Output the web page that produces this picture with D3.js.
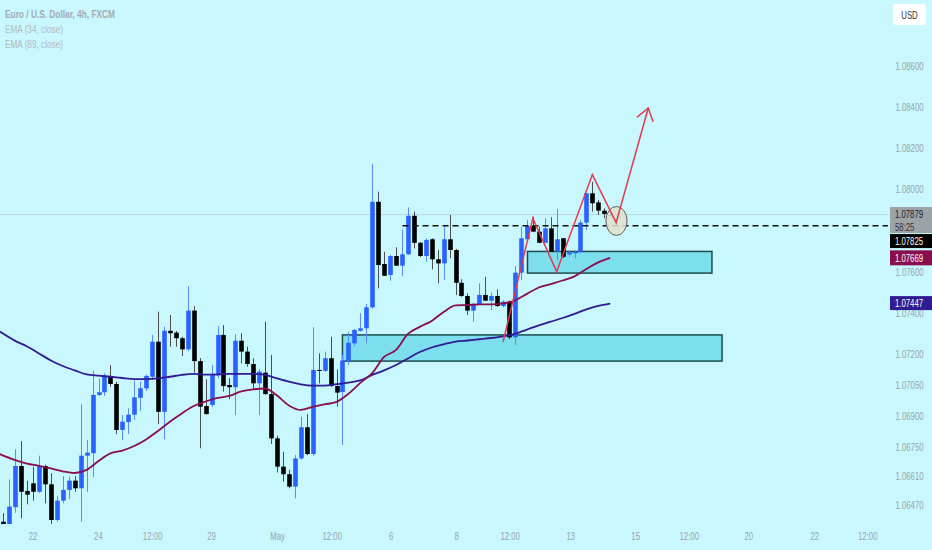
<!DOCTYPE html>
<html><head><meta charset="utf-8">
<script src="https://cdn.jsdelivr.net/npm/d3@7"></script>
<style>html,body{margin:0;padding:0;background:#c8f7fd;overflow:hidden}</style>
</head><body><svg id="c" width="932" height="550"></svg>
<script>
// ---- data (EUR/USD 4h, FXCM) ----
const opens = [1.06389,1.06373,1.06459,1.06659,1.06538,1.06575,1.06534,1.06659,1.06570,1.06397,1.06491,1.06543,1.06588,1.06551,1.06709,1.06721,1.07004,1.07017,1.07096,1.07057,1.06834,1.06872,1.06908,1.06990,1.07036,1.07092,1.07262,1.06922,1.07315,1.07306,1.07279,1.07225,1.07413,1.07168,1.06950,1.06955,1.07100,1.07295,1.07052,1.07041,1.07267,1.07214,1.07154,1.07060,1.07112,1.07008,1.06793,1.06656,1.06619,1.06559,1.06696,1.06847,1.06717,1.07125,1.07121,1.07182,1.07047,1.07018,1.07170,1.07254,1.07315,1.07327,1.07429,1.07941,1.07639,1.07586,1.07678,1.07631,1.07686,1.07873,1.07742,1.07678,1.07759,1.07662,1.07642,1.07759,1.07707,1.07548,1.07484,1.07413,1.07445,1.07489,1.07461,1.07484,1.07435,1.07456,1.07283,1.07597,1.07759,1.07823,1.07796,1.07742,1.07812,1.07699,1.07764,1.07686,1.07691,1.07699,1.07840,1.07982,1.07938,1.07898,1.07872];
const highs = [1.06430,1.06594,1.06740,1.06780,1.06588,1.06656,1.06709,1.06665,1.06624,1.06513,1.06610,1.06607,1.06610,1.06958,1.06785,1.07120,1.07083,1.07109,1.07148,1.07067,1.06906,1.06939,1.07073,1.07068,1.07102,1.07295,1.07408,1.07335,1.07392,1.07314,1.07286,1.07532,1.07435,1.07183,1.07080,1.07149,1.07338,1.07343,1.07086,1.07298,1.07303,1.07238,1.07182,1.07128,1.07359,1.07198,1.06805,1.06728,1.06640,1.06712,1.06898,1.06911,1.07332,1.07206,1.07214,1.07286,1.07128,1.07198,1.07311,1.07324,1.07400,1.07445,1.08124,1.07990,1.07699,1.07683,1.07720,1.07807,1.07914,1.07893,1.07746,1.07764,1.07764,1.07707,1.07820,1.07877,1.07712,1.07565,1.07497,1.07451,1.07545,1.07577,1.07500,1.07516,1.07464,1.07462,1.07629,1.07820,1.07853,1.07869,1.07820,1.07861,1.07866,1.07904,1.07765,1.07707,1.07707,1.07853,1.07984,1.08038,1.07950,1.07909,1.07893];
const lows = [1.06363,1.06358,1.06432,1.06405,1.06473,1.06491,1.06528,1.06478,1.06376,1.06389,1.06478,1.06497,1.06534,1.06389,1.06534,1.06604,1.06999,1.06999,1.07044,1.06814,1.06785,1.06814,1.06882,1.06926,1.07023,1.07076,1.06863,1.06789,1.07238,1.07238,1.07193,1.07217,1.07112,1.06745,1.06908,1.06945,1.07085,1.07020,1.06983,1.06906,1.07157,1.07141,1.07031,1.06906,1.07004,1.06766,1.06627,1.06583,1.06551,1.06502,1.06688,1.06712,1.06707,1.07060,1.07115,1.07042,1.06947,1.06761,1.07149,1.07241,1.07311,1.07254,1.07421,1.07521,1.07581,1.07558,1.07629,1.07581,1.07683,1.07715,1.07673,1.07650,1.07613,1.07545,1.07561,1.07667,1.07489,1.07480,1.07392,1.07359,1.07440,1.07460,1.07416,1.07432,1.07429,1.07274,1.07246,1.07561,1.07759,1.07794,1.07740,1.07740,1.07697,1.07658,1.07667,1.07674,1.07667,1.07691,1.07804,1.07893,1.07877,1.07861,1.07867];
const closes = [1.06376,1.06462,1.06659,1.06534,1.06520,1.06534,1.06659,1.06570,1.06397,1.06491,1.06543,1.06588,1.06551,1.06709,1.06724,1.07004,1.07017,1.07099,1.07057,1.06834,1.06874,1.06908,1.06992,1.07036,1.07096,1.07262,1.06922,1.07315,1.07303,1.07279,1.07225,1.07413,1.07168,1.06947,1.06911,1.07100,1.07295,1.07047,1.07041,1.07267,1.07214,1.07154,1.07060,1.07117,1.07008,1.06793,1.06656,1.06619,1.06559,1.06696,1.06847,1.06717,1.07125,1.07120,1.07182,1.07047,1.07015,1.07170,1.07257,1.07319,1.07327,1.07429,1.07941,1.07634,1.07582,1.07678,1.07631,1.07686,1.07873,1.07742,1.07678,1.07756,1.07662,1.07642,1.07759,1.07707,1.07548,1.07484,1.07413,1.07445,1.07489,1.07461,1.07484,1.07435,1.07456,1.07283,1.07597,1.07764,1.07823,1.07796,1.07742,1.07812,1.07699,1.07759,1.07674,1.07696,1.07699,1.07840,1.07982,1.07934,1.07898,1.07882,1.07879];

const emaIdx = [-0.6,2,4,6,8,10,12,14,16,18,20,22,24,26,28,30,32,34,36,38,40,42,44,46,48,50,52,54,56,58,60,62,64,66,68,70,72,74,76,78,80,82,84,86,88,90,92,94,96,98,100,102];
const ema34 = [1.06717,1.06688,1.06671,1.06660,1.06647,1.06633,1.06625,1.06640,1.06683,1.06720,1.06734,1.06756,1.06788,1.06829,1.06874,1.06914,1.06950,1.06972,1.06989,1.06999,1.07021,1.07031,1.07035,1.07001,1.06953,1.06931,1.06946,1.06958,1.06970,1.07009,1.07062,1.07110,1.07188,1.07222,1.07300,1.07334,1.07363,1.07406,1.07438,1.07440,1.07443,1.07443,1.07448,1.07462,1.07494,1.07525,1.07542,1.07559,1.07579,1.07615,1.07647,1.07669];
const ema89 = [1.07311,1.07266,1.07239,1.07205,1.07171,1.07144,1.07123,1.07103,1.07097,1.07092,1.07086,1.07081,1.07081,1.07084,1.07092,1.07101,1.07106,1.07102,1.07103,1.07106,1.07106,1.07106,1.07101,1.07084,1.07068,1.07055,1.07049,1.07049,1.07056,1.07064,1.07074,1.07101,1.07123,1.07149,1.07181,1.07212,1.07234,1.07249,1.07263,1.07268,1.07274,1.07280,1.07288,1.07300,1.07321,1.07341,1.07359,1.07377,1.07397,1.07419,1.07436,1.07447];

const priceTicks = [1.08600,1.08400,1.08200,1.08000,1.07600,1.07400,1.07200,1.07050,1.06900,1.06750,1.06610,1.06470];
const timeTickIdx = [4.9,15.9,25,34.9,46,55.2,65.1,76.1,85.1,95.3,106.2,115.2,125.2,136.3,145.2];
const timeTickLabels = ["22","24","12:00","29","May","12:00","6","8","12:00","13","15","12:00","20","22","12:00"];

// drawings
const zoneStart = [57, 88.1];
const zoneEnd = [120.8, 119.1];
const zoneTop = [1.07295, 1.07700];
const zoneBottom = [1.07168, 1.07595];
const levelStart = 67.1, levelPrice = 1.07825;
const zigIdx = [84, 89, 93, 99, 103, 108.4];
const zigPrice = [1.07262, 1.07861, 1.07602, 1.08073, 1.07840, 1.08396];
const circleIdx = 103.05, circlePrice = 1.07848;
const lastPrice = 1.07879, countdown = "58:25";

// ---- drawing ----
const W = 932, H = 550, plotR = 888, plotB = 524;
const svg = d3.select("#c");
svg.append("rect").attr("width", W).attr("height", H).attr("fill", "#c8f7fd");

const x = d3.scaleLinear().domain([0, 102]).range([3.3, 610.2]);
const y = d3.scaleLinear().domain([1.063776, 1.0892]).range([plotB, 0]);

svg.append("defs").append("clipPath").attr("id", "clip")
  .append("rect").attr("x", 0).attr("y", 0).attr("width", plotR).attr("height", plotB);
const plot = svg.append("g").attr("clip-path", "url(#clip)");

// last price line
plot.append("line").attr("x1", 0).attr("x2", plotR)
  .attr("y1", y(lastPrice)).attr("y2", y(lastPrice))
  .attr("stroke", "#b0c8cf").attr("stroke-width", 1).attr("opacity", 0.6);

// zones
const zones = d3.range(zoneStart.length).map(k => ({s: zoneStart[k], e: zoneEnd[k], t: zoneTop[k], b: zoneBottom[k]}));
plot.selectAll("rect.zone").data(zones).join("rect").attr("class", "zone")
  .attr("x", d => x(d.s)).attr("width", d => x(d.e) - x(d.s))
  .attr("y", d => y(d.t)).attr("height", d => y(d.b) - y(d.t))
  .attr("fill", "#7ddfee").attr("stroke", "#1c4a4c").attr("stroke-width", 1.5);

// candles
const bars = opens.map((o, i) => ({i, o, h: highs[i], l: lows[i], c: closes[i]}));
const up = d => d.c >= d.o;
plot.selectAll("line.wick").data(bars).join("line").attr("class", "wick")
  .attr("x1", d => Math.round(x(d.i)) + 0.5).attr("x2", d => Math.round(x(d.i)) + 0.5)
  .attr("y1", d => y(d.h)).attr("y2", d => y(d.l))
  .attr("stroke", d => up(d) ? "#5b8cff" : "#4d4d4d").attr("stroke-width", 1);
plot.selectAll("rect.body").data(bars).join("rect").attr("class", "body")
  .attr("x", d => Math.round(x(d.i)) + 0.5 - 2.3).attr("width", 4.6)
  .attr("y", d => y(Math.max(d.o, d.c)))
  .attr("height", d => Math.max(1, Math.abs(y(d.o) - y(d.c))))
  .attr("fill", d => up(d) ? "#2962ff" : "#000000");

// EMAs
const emaLine = d3.line().x(d => x(d[0])).y(d => y(d[1])).curve(d3.curveMonotoneX);
plot.append("path").datum(emaIdx.map((v, k) => [v, ema89[k]]))
  .attr("d", emaLine).attr("fill", "none").attr("stroke", "#311b92").attr("stroke-width", 1.8);
plot.append("path").datum(emaIdx.map((v, k) => [v, ema34[k]]))
  .attr("d", emaLine).attr("fill", "none").attr("stroke", "#880e4f").attr("stroke-width", 1.8);

// horizontal level (dashed)
plot.append("line").attr("x1", x(levelStart)).attr("x2", plotR)
  .attr("y1", y(levelPrice)).attr("y2", y(levelPrice))
  .attr("stroke", "#111").attr("stroke-width", 1.5).attr("stroke-dasharray", "6,4");

// circle (ellipse)
plot.append("ellipse").attr("cx", x(circleIdx)).attr("cy", y(circlePrice))
  .attr("rx", 10.6).attr("ry", 14.5)
  .attr("fill", "#dfe0cb").attr("fill-opacity", 0.85).attr("stroke", "#5e5e5e").attr("stroke-width", 1);

// zigzag path with arrow
const zig = zigIdx.map((v, k) => [x(v), y(zigPrice[k])]);
plot.append("path").attr("d", d3.line()(zig)).attr("fill", "none")
  .attr("stroke", "#e53950").attr("stroke-width", 1.5).attr("stroke-linejoin", "miter");
const tip = zig[zig.length - 1], prev = zig[zig.length - 2];
const dx = prev[0] - tip[0], dy = prev[1] - tip[1], len = Math.hypot(dx, dy);
const bx = dx / len, by = dy / len, ang = 35 * Math.PI / 180, al = 14;
[ang, -ang].forEach(a => {
  const rx = bx * Math.cos(a) - by * Math.sin(a), ry = bx * Math.sin(a) + by * Math.cos(a);
  plot.append("line").attr("x1", tip[0]).attr("y1", tip[1])
    .attr("x2", tip[0] + rx * al).attr("y2", tip[1] + ry * al)
    .attr("stroke", "#e53950").attr("stroke-width", 1.5).attr("stroke-linecap", "round");
});

// ---- axes ----
const FONT = "'Liberation Sans', Arial, sans-serif";
const narrow = (sel, k) => sel.each(function () {
  const w = this.getComputedTextLength();
  d3.select(this).attr("textLength", w * k).attr("lengthAdjust", "spacingAndGlyphs");
});

const yAxis = d3.axisRight(y).tickValues(priceTicks).tickFormat(d3.format(".5f")).tickSize(0).tickPadding(0);
const gy = svg.append("g").attr("transform", "translate(895.5,0)").call(yAxis);
gy.select(".domain").remove();
gy.selectAll("text").attr("font-family", FONT).attr("font-size", "10.5px").attr("fill", "#9aa4ab");
narrow(gy.selectAll("text"), 0.74);

const xAxis = d3.axisBottom(x).tickValues(timeTickIdx).tickFormat((d, k) => timeTickLabels[k]).tickSize(0).tickPadding(0);
const gx = svg.append("g").attr("transform", "translate(0,533)").call(xAxis);
gx.select(".domain").remove();
gx.selectAll("text").attr("font-family", FONT).attr("font-size", "10.5px").attr("fill", "#9aa4ab").attr("dy", "0.71em");
narrow(gx.selectAll("text"), 0.74);

// ---- price tags ----
const tags = [
  {v: lastPrice, bg: "#9ea3a8", fg: "#1b1b1b", h: 26, sub: countdown},
  {v: levelPrice, bg: "#000000", fg: "#ffffff", h: 14},
  {v: ema34[ema34.length - 1], bg: "#880e4f", fg: "#ffffff", h: 15},
  {v: ema89[ema89.length - 1], bg: "#311b92", fg: "#ffffff", h: 14}
];
let lastBottom = -1e9;
tags.forEach(t => {
  let top = y(t.v) - 7.5;
  if (top < lastBottom + 1) top = lastBottom + 1;
  lastBottom = top + t.h;
  const g = svg.append("g");
  g.append("rect").attr("x", 890).attr("y", top).attr("width", 42).attr("height", t.h).attr("fill", t.bg);
  const tx = g.append("text").attr("x", 895).attr("y", top + 7.5).attr("dy", "0.35em")
    .attr("font-family", FONT).attr("font-size", "10.5px").attr("fill", t.fg).text(d3.format(".5f")(t.v));
  narrow(tx, 0.74);
  if (t.sub) {
    const s = g.append("text").attr("x", 895).attr("y", top + 20).attr("dy", "0.35em")
      .attr("font-family", FONT).attr("font-size", "10.5px").attr("fill", "#333").text(t.sub);
    narrow(s, 0.74);
  }
});

// USD box
svg.append("rect").attr("x", 893).attr("y", 4).attr("width", 33).attr("height", 21).attr("rx", 3)
  .attr("fill", "#ffffff");
narrow(svg.append("text").attr("x", 909.5).attr("y", 15).attr("dy", "0.35em").attr("text-anchor", "middle")
  .attr("font-family", FONT).attr("font-size", "10.5px").attr("fill", "#333").text("USD"), 0.74);

// legend
svg.append("text").attr("x", 5).attr("y", 18).attr("font-family", FONT).attr("font-size", "10.5px")
  .attr("font-weight", "bold").attr("fill", "#a4acb3").attr("textLength", 110).attr("lengthAdjust", "spacingAndGlyphs")
  .text("Euro / U.S. Dollar, 4h, FXCM");
svg.append("text").attr("x", 5).attr("y", 33).attr("font-family", FONT).attr("font-size", "10.5px")
  .attr("fill", "#b3bbc2").attr("textLength", 58).attr("lengthAdjust", "spacingAndGlyphs").text("EMA (34, close)");
svg.append("text").attr("x", 5).attr("y", 47.5).attr("font-family", FONT).attr("font-size", "10.5px")
  .attr("fill", "#b3bbc2").attr("textLength", 58).attr("lengthAdjust", "spacingAndGlyphs").text("EMA (89, close)");
</script></body></html>
